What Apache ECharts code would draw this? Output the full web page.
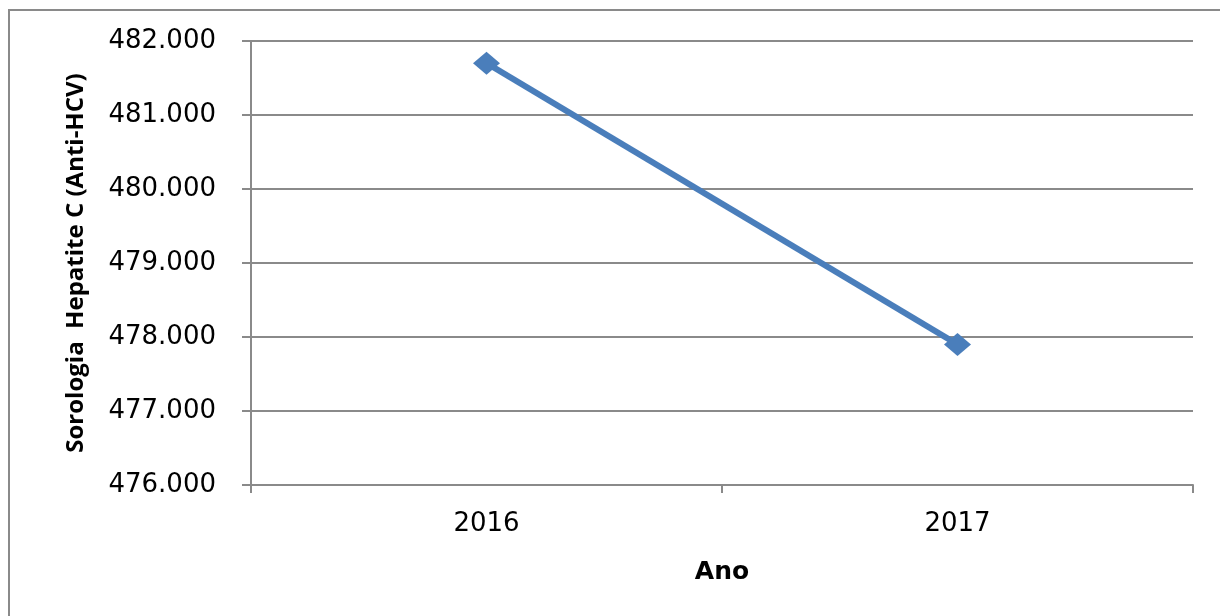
<!DOCTYPE html>
<html>
<head>
<meta charset="utf-8">
<title>Sorologia Hepatite C (Anti-HCV)</title>
<script src="https://cdn.jsdelivr.net/npm/echarts@6/dist/echarts.min.js"></script>
<style>
  html, body { margin: 0; padding: 0; background: #fff; }
  #chart { width: 1220px; height: 616px; }
</style>
</head>
<body>
<div id="chart"></div>
<script>
// Exames de sorologia para hepatite C por ano
const years = ['2016', '2017'];
const antiHcv = [481700, 477900];
const yTicks = [476000, 477000, 478000, 479000, 480000, 481000, 482000];

// separador de milhar no padrão brasileiro: 482.000
function fmtMilhar(v) {
  return String(Math.round(v)).replace(/\B(?=(\d{3})+(?!\d))/g, '.');
}

const grey = '#8a8a8a';
const chart = echarts.init(document.getElementById('chart'), null, { renderer: 'canvas' });

chart.setOption({
  animation: false,
  backgroundColor: '#fff',
  graphic: [{
    type: 'rect',
    shape: { x: 9, y: 10, width: 1240, height: 640 },
    style: { fill: 'none', stroke: grey, lineWidth: 2 },
    silent: true,
    z: -1
  }],
  grid: { left: 251, right: 27, top: 41, bottom: 131 },
  xAxis: {
    type: 'category',
    data: years,
    boundaryGap: true,
    name: 'Ano',
    nameLocation: 'middle',
    nameGap: 75,
    nameTextStyle: { fontFamily: 'DejaVu Sans', fontWeight: 'bold', fontSize: 25, color: '#000' },
    axisLine: { lineStyle: { color: grey, width: 2 } },
    axisTick: { show: true, length: 8, alignWithLabel: false, lineStyle: { color: grey, width: 2 } },
    axisLabel: { fontFamily: 'DejaVu Sans', fontSize: 26, color: '#000', margin: 26 },
    splitLine: { show: false }
  },
  yAxis: {
    type: 'value',
    min: yTicks[0],
    max: yTicks[yTicks.length - 1],
    interval: yTicks[1] - yTicks[0],
    name: 'Sorologia  Hepatite C (Anti-HCV)',
    nameLocation: 'middle',
    nameGap: 163,
    nameTextStyle: { fontFamily: 'Open Sans', fontWeight: 'bold', fontSize: 24, color: '#000' },
    axisLine: { show: true, lineStyle: { color: grey, width: 2 } },
    axisTick: { show: true, length: 9, lineStyle: { color: grey, width: 2 } },
    axisLabel: {
      fontFamily: 'DejaVu Sans', fontSize: 26, color: '#000', margin: 35,
      formatter: fmtMilhar
    },
    splitLine: { show: true, lineStyle: { color: grey, width: 2 } }
  },
  series: [{
    type: 'line',
    data: antiHcv,
    symbol: 'diamond',
    symbolSize: [27, 23],
    lineStyle: { color: '#4a7ebb', width: 6 },
    itemStyle: { color: '#4a7ebb' }
  }]
});
</script>
</body>
</html>
